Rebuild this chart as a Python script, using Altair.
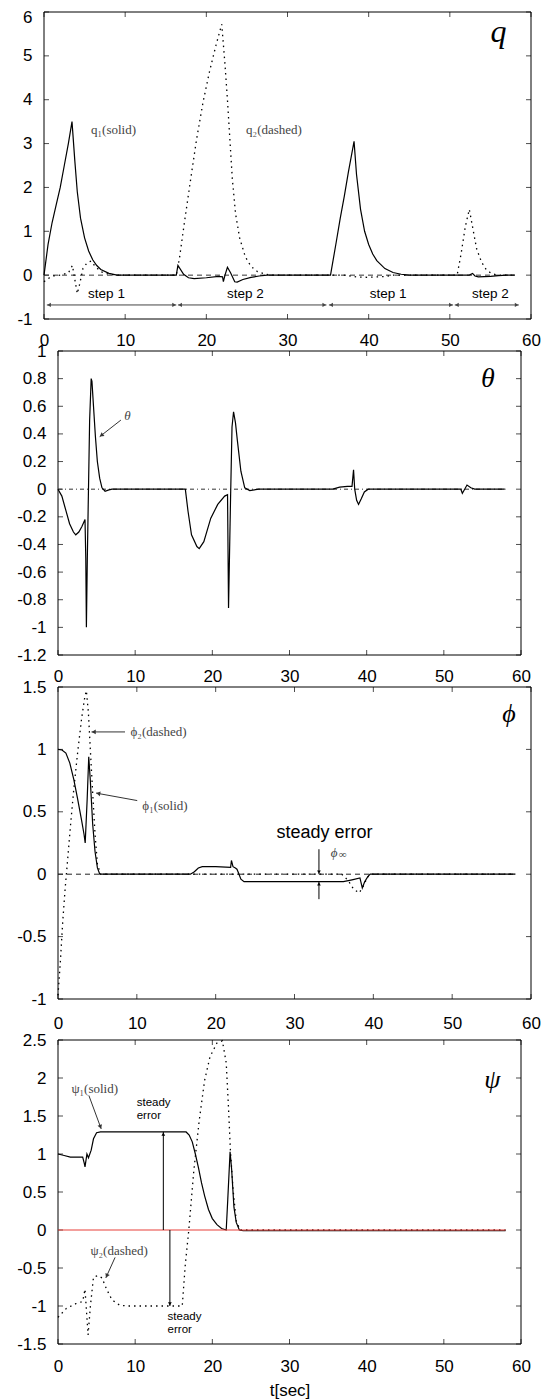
import math
import altair as alt
import pandas as pd

FONT = "Liberation Sans"
SERIF = "Liberation Serif"

T_TICKS = [0, 10, 20, 30, 40, 50, 60]

# ---------------- panel 1 : q ----------------
Q_TICKS = [-1, 0, 1, 2, 3, 4, 5, 6]
q1_t = [0, 0.5, 1.0, 1.5, 2.0, 2.5, 3.0, 3.45, 3.8, 4.1, 4.5, 5.0, 5.5, 6.0, 6.5, 7.0, 8.0, 9.0,
        16.3, 16.5, 17.2, 17.8, 18.5, 20.0, 21.5, 22.0, 22.1, 22.3, 22.6, 23.0, 23.5, 23.8, 24.5,
        25.5, 26.5, 27.5, 35.3, 36.0, 36.5, 37.0, 37.5, 38.2, 38.5, 39.0, 39.5, 40.0, 40.5, 41.0,
        42.0, 43.0, 44.0, 45.0, 52.4, 52.8, 53.1, 53.5, 55.0, 56.0, 57.0, 58.0]
q1_v = [0, 0.7, 1.2, 1.6, 2.0, 2.5, 3.0, 3.5, 2.6, 1.9, 1.3, 0.85, 0.55, 0.35, 0.22, 0.13, 0.04, 0,
        0, 0.22, 0.02, -0.06, -0.08, -0.06, -0.03, -0.04, -0.15, 0.0, 0.18, 0.05, -0.15, -0.16, -0.1,
        -0.05, -0.02, 0, 0, 0.75, 1.3, 1.8, 2.35, 3.05, 2.3, 1.5, 1.0, 0.7, 0.48, 0.33,
        0.15, 0.06, 0.02, 0, 0, 0.04, -0.02, -0.04, -0.03, -0.01, 0, 0]
q2_t = [0, 0.5, 1.0, 2.0, 3.0, 3.5, 3.8, 4.1, 4.4, 4.8, 5.3, 5.8, 6.3, 7.0, 8.0, 9.0,
        16.3, 16.7, 17.3, 18.0, 18.8, 19.6, 20.4, 21.2, 21.9, 22.3, 22.6, 22.9, 23.2, 23.6, 24.1,
        24.8, 25.5, 26.3, 27.3, 28.0, 37.0, 38.5, 40.0, 42.0, 43.0,
        50.9, 51.4, 51.9, 52.4, 52.8, 53.3, 53.9, 54.5, 55.2, 56.0, 58.0]
q2_v = [-0.15, -0.08, -0.02, 0, 0.05, 0.22, -0.1, -0.42, -0.2, 0.15, 0.28, 0.32, 0.2, 0.08, 0.02, 0,
        0, 0.4, 1.2, 2.1, 3.1, 3.95, 4.65, 5.25, 5.72, 4.8, 4.0, 3.1, 2.2, 1.4, 0.85,
        0.42, 0.2, 0.08, 0.02, 0, 0, -0.04, -0.05, -0.03, 0,
        0, 0.5, 1.1, 1.5, 1.1, 0.6, 0.3, 0.12, 0.03, 0, 0]
step_start = [0.35, 16.5, 35.1, 50.6]
step_end = [16.3, 34.8, 50.4, 58.5]
step_label = ["step 1", "step 2", "step 1", "step 2"]
step_label_t = [7.7, 24.8, 42.4, 55.0]

# ---------------- panel 2 : theta ----------------
TH_TICKS = [-1.2, -1, -0.8, -0.6, -0.4, -0.2, 0, 0.2, 0.4, 0.6, 0.8, 1]
th_t = [0, 0.5, 1.0, 1.5, 2.0, 2.3, 2.7, 3.1, 3.5, 3.6, 3.68, 3.8, 3.95, 4.1, 4.3, 4.4, 4.6, 4.85,
        5.1, 5.4, 5.7, 6.1, 6.6, 7.0, 16.5, 16.85, 17.3, 18.0, 18.3, 18.9, 19.8, 20.7, 21.6, 21.97,
        22.1, 22.35, 22.55, 22.75, 23.0, 23.25, 23.7, 24.2, 24.85, 26.0, 35.6, 36.5, 37.5, 38.1,
        38.3, 38.45, 38.7, 38.95, 39.3, 39.7, 40.2, 52.2, 52.4, 52.7, 53.0, 53.5, 54.0, 57.9]
th_v = [0, -0.05, -0.15, -0.25, -0.31, -0.33, -0.31, -0.27, -0.22, -0.5, -1.0, -0.5, 0.0, 0.5, 0.8,
        0.78, 0.6, 0.38, 0.2, 0.08, 0.01, -0.015, -0.005, 0, 0, -0.16, -0.33, -0.415, -0.43, -0.38,
        -0.21, -0.11, -0.05, -0.04, -0.86, -0.1, 0.45, 0.56, 0.48, 0.35, 0.13, 0.01, -0.01, 0, 0,
        0.015, 0.02, 0.02, 0.14, 0.0, -0.08, -0.11, -0.07, -0.02, 0, 0, -0.03, 0.0, 0.03, 0.01, 0, 0]

# ---------------- panel 3 : phi ----------------
PH_TICKS = [-1, -0.5, 0, 0.5, 1, 1.5]
ph1_t = [0, 0.5, 1.0, 1.5, 2.0, 2.5, 3.0, 3.3, 3.45, 3.7, 3.9, 4.1, 4.4, 4.7, 5.0, 5.3, 16.8, 17.3,
         17.8, 18.3, 20.0, 21.9, 22.0, 22.2, 22.5, 22.7, 22.9, 23.2, 23.6, 36.2, 37.3, 38.3, 38.6,
         38.9, 39.3, 39.6, 58.0]
ph1_v = [1.0, 0.995, 0.97, 0.89, 0.76, 0.6, 0.43, 0.32, 0.25, 0.6, 0.94, 0.75, 0.4, 0.18, 0.05, 0,
         0, 0.02, 0.05, 0.06, 0.06, 0.055, 0.11, 0.06, 0.05, 0.04, 0.01, -0.04, -0.06, -0.06,
         -0.045, -0.03, -0.11, -0.06, -0.02, 0, 0]
ph2_t = [0, 0.3, 0.6, 0.9, 1.2, 1.6, 2.0, 2.5, 3.0, 3.4, 3.6, 3.85, 4.1, 4.4, 4.7, 5.0, 5.4, 36.0,
         36.8, 37.5, 38.2, 38.7, 39.2, 39.6, 58.0]
ph2_v = [-0.97, -0.7, -0.38, -0.12, 0.1, 0.4, 0.68, 0.98, 1.25, 1.42, 1.47, 1.3, 1.0, 0.65, 0.32,
         0.08, 0, 0, -0.05, -0.12, -0.15, -0.1, -0.03, 0, 0]

# ---------------- panel 4 : psi ----------------
PS_TICKS = [-1.5, -1, -0.5, 0, 0.5, 1, 1.5, 2, 2.5]
ps1_t = [0, 0.8, 1.6, 3.2, 3.4, 3.5, 3.75, 3.95, 4.3, 4.6, 5.0, 5.5, 16.6, 17.0, 17.4, 17.8, 18.2,
         18.6, 19.0, 19.5, 20.0, 20.6, 21.2, 21.8, 22.0, 22.3, 22.5, 22.8, 23.1, 23.5, 24.0, 58.0]
ps1_v = [1.0, 0.98, 0.96, 0.96, 0.88, 0.83, 1.0, 0.95, 1.05, 1.2, 1.28, 1.29, 1.29, 1.25, 1.16,
         1.0, 0.82, 0.62, 0.45, 0.27, 0.15, 0.07, 0.02, 0.0, 0.4, 1.03, 0.8, 0.3, 0.1, 0.0, -0.01,
         -0.01]
ps2_t = [0, 1.1, 2.3, 3.2, 3.5, 3.9, 4.2, 4.6, 5.2, 5.7, 6.3, 7.0, 8.0, 9.0, 16.1, 16.5, 16.95,
         17.6, 18.3, 19.0, 19.7, 20.6, 21.3, 21.8, 22.1, 22.35, 22.7, 23.1, 23.6, 58.0]
ps2_v = [-1.15, -1.03, -0.97, -0.94, -0.78, -1.38, -1.0, -0.62, -0.6, -0.63, -0.78, -0.92, -0.99,
         -1.0, -1.0, -0.45, 0.0, 0.78, 1.44, 1.97, 2.28, 2.46, 2.49, 2.2, 1.6, 1.03, 0.52, 0.12,
         0.0, 0.0]

REF_T = [0, 58]
REF_V = [0, 0]


class Panel:
    def __init__(self, width, height, ydom, yticks, xpad, xrange=None, yrange=None,
                 yoffset=0, xtitle=None, top_label_shift=None):
        self.width, self.height = width, height
        self.ydom = ydom
        self.xpx = (xrange[1] - xrange[0]) if xrange else width
        self.ypx = (yrange[0] - yrange[1]) if yrange else height
        xs = dict(domain=[0, 60], nice=False, zero=False)
        if xrange:
            xs["range"] = xrange
        ys = dict(domain=ydom, nice=False, zero=False)
        if yrange:
            ys["range"] = yrange
        self.xs = alt.Scale(**xs)
        self.ys = alt.Scale(**ys)
        xa = dict(values=T_TICKS, labelExpr="'' + datum.value", labelFont=FONT, labelFontSize=17,
                  labelColor="black", labelPadding=xpad, ticks=False, tickSize=0, domain=False,
                  grid=False, labelFlush=False, labelOverlap=False, title=xtitle)
        if xtitle:
            xa.update(titleFont=FONT, titleFontSize=17, titleFontWeight="normal",
                      titleColor="black", titlePadding=8)
        self.xax = alt.Axis(**xa)
        ya = dict(values=yticks, labelExpr="'' + datum.value", labelFont=FONT, labelFontSize=17,
                  labelColor="black", labelPadding=12, ticks=False, tickSize=0, domain=False,
                  grid=False, labelFlush=False, labelOverlap=False, title=None)
        if yoffset:
            ya["offset"] = yoffset
        if top_label_shift is not None:
            ya["labelOffset"] = {"condition": {"test": "datum.value == %s" % ydom[1],
                                               "value": top_label_shift}, "value": 0}
        self.yax = alt.Axis(**ya)
        self.yticks = yticks
        self.layers = []

    def X(self, f):
        return alt.X(f, type="quantitative", scale=self.xs, axis=self.xax)

    def Y(self, f):
        return alt.Y(f, type="quantitative", scale=self.ys, axis=self.yax)

    def XD(self, v):
        return alt.XDatum(v, type="quantitative", scale=self.xs, axis=self.xax)

    def YD(self, v):
        return alt.YDatum(v, type="quantitative", scale=self.ys, axis=self.yax)

    def frame(self):
        base = alt.Chart(pd.DataFrame({"k": [0]}))
        self.layers.append(base.mark_rect(fillOpacity=0, stroke="black", strokeWidth=1).encode(
            x=self.XD(0), x2=alt.datum(60), y=self.YD(self.ydom[0]), y2=alt.datum(self.ydom[1])))
        tx = alt.Chart(pd.DataFrame({"t": T_TICKS}))
        ty = alt.Chart(pd.DataFrame({"v": self.yticks}))
        self.layers.append(tx.mark_tick(orient="vertical", size=5, thickness=1, color="black",
                                        yOffset=-2.5).encode(x=self.X("t"), y=self.YD(self.ydom[0])))
        self.layers.append(tx.mark_tick(orient="vertical", size=5, thickness=1, color="black",
                                        yOffset=2.5).encode(x=self.X("t"), y=self.YD(self.ydom[1])))
        self.layers.append(ty.mark_tick(orient="horizontal", size=5, thickness=1, color="black",
                                        xOffset=2.5).encode(x=self.XD(0), y=self.Y("v")))
        self.layers.append(ty.mark_tick(orient="horizontal", size=5, thickness=1, color="black",
                                        xOffset=-2.5).encode(x=self.XD(60), y=self.Y("v")))

    def line(self, ts, vs, **style):
        df = pd.DataFrame({"t": ts, "v": vs})
        self.layers.append(alt.Chart(df).mark_line(**style).encode(x=self.X("t"), y=self.Y("v")))

    def text(self, t, v, s, **style):
        self.layers.append(alt.Chart(pd.DataFrame({"k": [0]})).mark_text(text=s, **style).encode(
            x=self.XD(t), y=self.YD(v)))

    def arrow(self, t0, v0, t1, v1, head_start=False, color="#333", size=22):
        df = pd.DataFrame({"t": [t0], "v": [v0], "t2": [t1], "v2": [v1]})
        self.layers.append(alt.Chart(df).mark_rule(color=color, strokeWidth=1).encode(
            x=self.X("t"), y=self.Y("v"), x2="t2:Q", y2="v2:Q"))
        ends = [(t1, v1, t0, v0)]
        if head_start:
            ends.append((t0, v0, t1, v1))
        for (ta, va, tb, vb) in ends:
            dx = (ta - tb) * self.xpx / 60.0
            dy = -(va - vb) * self.ypx / (self.ydom[1] - self.ydom[0])
            ang = math.degrees(math.atan2(dx, -dy)) % 360
            n = math.hypot(dx, dy) or 1.0
            self.layers.append(alt.Chart(pd.DataFrame({"t": [ta], "v": [va]})).mark_point(
                shape="triangle-up", filled=True, size=size, color=color, opacity=1,
                angle=round(ang, 2), xOffset=-2.2 * dx / n, yOffset=-2.2 * dy / n).encode(
                x=self.X("t"), y=self.Y("v")))

    def chart(self):
        return alt.layer(*self.layers).properties(
            width=self.width, height=self.height,
            view=alt.ViewBackground(stroke="transparent", strokeWidth=0, strokeOpacity=0))


SOLID = dict(color="black", strokeWidth=1.2)
DOTTED = dict(color="black", strokeWidth=1.3, strokeDash=[1.5, 4])
LBL = dict(font=SERIF, fontSize=13, color="#444", align="left", baseline="middle")
BIG = dict(font=SERIF, fontStyle="italic", color="black", align="center", baseline="middle")

# ---- q panel  (plot 43..530)
p1 = Panel(473, 307, [-1, 6], Q_TICKS, 13, xrange=[-14, 473], yoffset=14, top_label_shift=5)
p1.frame()
p1.line(REF_T, REF_V, color="#333", strokeWidth=1, strokeDash=[5, 4])
p1.line(q2_t, q2_v, **DOTTED)
p1.line(q1_t, q1_v, **SOLID)
for a, b in zip(step_start, step_end):
    p1.arrow(a, -0.68, b, -0.68, head_start=True, color="#444", size=18)
for s, t in zip(step_label, step_label_t):
    p1.text(t, -0.44, s, font=FONT, fontSize=13.5, color="black", align="center", baseline="middle")
p1.text(5.8, 3.3, "q\u2081(solid)", **LBL)
p1.text(24.9, 3.3, "q\u2082(dashed)", **LBL)
p1.text(56.0, 5.55, "q", fontSize=32, **BIG)

# ---- theta panel (plot 57..520)
p2 = Panel(463, 304, [-1.2, 1], TH_TICKS, 13)
p2.frame()
p2.line(REF_T, REF_V, color="#333", strokeWidth=1, strokeDash=[4, 3, 1, 3])
p2.line(th_t, th_v, **SOLID)
p2.text(8.6, 0.53, "\u03b8", font=SERIF, fontStyle="italic", fontSize=13, color="#444",
        align="left", baseline="middle")
p2.arrow(8.15, 0.5, 5.4, 0.38)
p2.text(55.7, 0.8, "\u03b8", fontSize=28, **BIG)

# ---- phi panel (plot 57..530)
p3 = Panel(473, 312, [-1, 1.5], PH_TICKS, 16)
p3.frame()
p3.line(REF_T, REF_V, color="#222", strokeWidth=1, strokeDash=[5, 4])
p3.line(ph2_t, ph2_v, **DOTTED)
p3.line(ph1_t, ph1_v, **SOLID)
p3.text(9.2, 1.14, "\u03d5\u2082(dashed)", **LBL)
p3.arrow(8.5, 1.14, 4.25, 1.14)
p3.text(10.7, 0.55, "\u03d5\u2081(solid)", **LBL)
p3.arrow(10.05, 0.59, 4.83, 0.65)
p3.text(33.8, 0.33, "steady error", font=FONT, fontSize=18, color="black", align="center",
        baseline="middle")
p3.text(34.6, 0.17, "\u03d5", font=SERIF, fontStyle="italic", fontSize=13, color="#444",
        align="left", baseline="middle")
p3.text(35.6, 0.15, "\u221e", font=SERIF, fontSize=11, color="#444", align="left",
        baseline="middle")
p3.arrow(33.1, 0.2, 33.1, 0.0, color="black", size=14)
p3.arrow(33.1, -0.2, 33.1, -0.06, color="black", size=14)
p3.text(57.2, 1.28, "\u03d5", fontSize=26, **BIG)

# ---- psi panel (plot 57..520)
p4 = Panel(463, 313, [-1.5, 2.5], PS_TICKS, 14, yrange=[313, 9], xtitle="t[sec]")
p4.frame()
p4.line(ps2_t, ps2_v, **DOTTED)
p4.line(ps1_t, ps1_v, **SOLID)
p4.line(REF_T, REF_V, color="#e8403a", strokeWidth=1.2)
p4.text(1.74, 1.85, "\u03c8\u2081(solid)", **LBL)
p4.arrow(4.0, 1.77, 5.6, 1.33)
p4.text(10.2, 1.67, "steady", font=FONT, fontSize=11.5, color="black", align="left", baseline="middle")
p4.text(10.2, 1.5, "error", font=FONT, fontSize=11.5, color="black", align="left", baseline="middle")
p4.arrow(13.65, 0.0, 13.65, 1.29, color="black", size=14)
p4.text(4.2, -0.28, "\u03c8\u2082(dashed)", **LBL)
p4.arrow(7.4, -0.36, 6.2, -0.63)
p4.arrow(14.5, 0.0, 14.5, -1.0, color="black", size=14)
p4.text(14.2, -1.15, "steady", font=FONT, fontSize=11.5, color="black", align="left", baseline="middle")
p4.text(14.2, -1.32, "error", font=FONT, fontSize=11.5, color="black", align="left", baseline="middle")
p4.text(56.3, 1.97, "\u03c8", fontSize=26, **BIG)

chart = alt.concat(p1.chart(), p2.chart(), p3.chart(), p4.chart(), columns=1, spacing=32,
                   bounds="flush").properties(
    padding={"left": 8, "top": 0, "right": 5, "bottom": 5}
).configure_view(stroke="transparent", strokeWidth=0).configure_axis(
    domain=False, grid=False, domainOpacity=0, gridOpacity=0
).configure(background="white")

chart.save("out.html", embed_options={"renderer": "svg", "actions": False})
